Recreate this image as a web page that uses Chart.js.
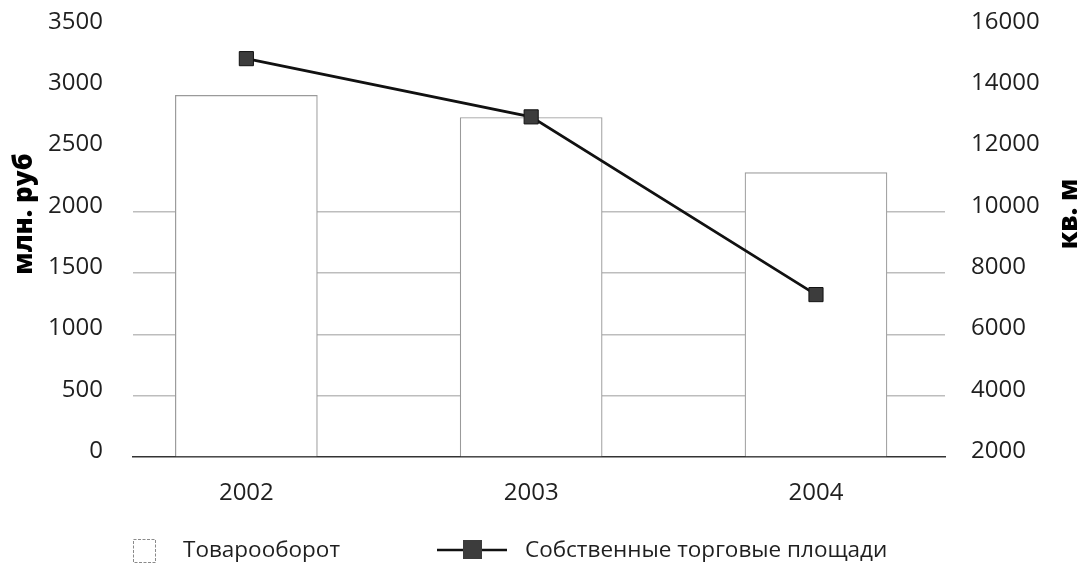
<html>
<head>
    <script src="https://cdn.jsdelivr.net/npm/chart.js@4.4.0/dist/chart.umd.min.js"></script>
    <style>
        html, body {
            margin: 0;
            padding: 0;
            background: #fff;
        }
        #wrap {
            position: relative;
            width: 1081px;
            height: 569px;
        }
    </style>
</head>
<body>
    <div id="wrap">
        <canvas id="chart"></canvas>
    </div>
    <script>
        // data
        const years = [2002, 2003, 2004];
        const turnover = [2950, 2770, 2320];        // млн. руб, left axis
        const tradingArea = [15000, 13100, 7300];   // кв. м, right axis
        const leftTicks = [0, 500, 1000, 1500, 2000, 2500, 3000, 3500];
        const rightTicks = [2000, 4000, 6000, 8000, 10000, 12000, 14000, 16000];
        const barLabel = "Товарооборот";
        const lineLabel = "Собственные торговые площади";
        const leftTitle = "млн. руб";
        const rightTitle = "кв. м";

        const FONT = "'Open Sans', 'Noto Sans', sans-serif";
        const TEXT = "#1f1f1f";
        const PLOT = { left: 133, right: 945, top: 28, bottom: 457 };

        // axis titles (both read bottom-to-top) and the legend, drawn by hand
        const extras = {
            id: "extras",
            afterDraw(chart) {
                const ctx = chart.ctx;
                ctx.save();

                ctx.font = "800 26px " + FONT;
                ctx.fillStyle = "#000";
                ctx.textAlign = "center";
                ctx.textBaseline = "middle";
                [[25, leftTitle], [1070, rightTitle]].forEach(([x, t]) => {
                    ctx.save();
                    ctx.translate(x, 214);
                    ctx.rotate(-Math.PI / 2);
                    ctx.fillText(t, 0, 0);
                    ctx.restore();
                });

                const y = 551;
                ctx.font = "22.5px " + FONT;
                ctx.fillStyle = TEXT;
                ctx.textAlign = "left";

                // bar entry
                ctx.strokeStyle = "#8a8a8a";
                ctx.lineWidth = 1;
                ctx.setLineDash([3, 1.5]);
                ctx.strokeRect(133.5, y - 11.5, 22, 23);
                ctx.setLineDash([]);
                ctx.fillText(barLabel, 183, y);

                // line entry
                ctx.strokeStyle = "#111";
                ctx.lineWidth = 2.5;
                ctx.beginPath();
                ctx.moveTo(437, y - 1);
                ctx.lineTo(507, y - 1);
                ctx.stroke();
                ctx.fillStyle = "#3c3c3c";
                ctx.fillRect(463, y - 11, 19, 19);
                ctx.fillStyle = TEXT;
                ctx.fillText(lineLabel, 525, y);
                ctx.restore();
            }
        };

        const tickFont = { family: FONT, size: 24 };
        const noPad = (s) => { s.paddingTop = 0; s.paddingBottom = 0; s.paddingLeft = 0; s.paddingRight = 0; };

        const chart = new Chart(document.getElementById("chart"), {
            data: {
                datasets: [
                    {
                        type: "line",
                        label: lineLabel,
                        data: years.map((x, i) => ({ x: x, y: tradingArea[i] })),
                        yAxisID: "y2",
                        borderColor: "#111",
                        borderWidth: 2.8,
                        pointStyle: "rect",
                        pointRadius: 10,
                        pointBackgroundColor: "#3c3c3c",
                        pointBorderColor: "#111",
                        pointBorderWidth: 1,
                        order: 0,
                    },
                    {
                        type: "bar",
                        label: barLabel,
                        data: years.map((x, i) => ({ x: x, y: turnover[i] })),
                        yAxisID: "y",
                        backgroundColor: "#fff",
                        borderColor: "#9a9a9a",
                        borderWidth: 1.2,
                        borderSkipped: "bottom",
                        barThickness: 142,
                        order: 1,
                    },
                ]
            },
            options: {
                responsive: true,
                maintainAspectRatio: false,
                animation: false,
                layout: { padding: { top: PLOT.top, bottom: 0, left: 0, right: 0 } },
                plugins: {
                    legend: { display: false },
                    tooltip: { enabled: false },
                },
                scales: {
                    x: {
                        type: "linear",
                        offset: false,
                        min: 2001.602,
                        max: 2004.453,
                        afterBuildTicks: (s) => { s.ticks = years.map(v => ({ value: v })); },
                        afterFit: (s) => { s.height = 569 - PLOT.bottom; noPad(s); },
                        grid: { display: false, drawTicks: false },
                        border: { display: true, color: "#333", width: 1.5 },
                        ticks: {
                            font: tickFont,
                            color: TEXT,
                            padding: 22,
                            callback: (v) => String(v),
                        },
                    },
                    y: {
                        position: "left",
                        min: 0,
                        max: 3500,
                        afterBuildTicks: (s) => { s.ticks = leftTicks.map(v => ({ value: v })); },
                        afterFit: (s) => { s.width = PLOT.left; noPad(s); },
                        grid: {
                            drawTicks: false,
                            color: (c) => (c.tick && c.tick.value > 0 && c.tick.value <= 2000) ? "#bdbdbd" : "rgba(0,0,0,0)",
                            lineWidth: 1.5,
                        },
                        border: { display: false },
                        ticks: {
                            font: tickFont,
                            color: TEXT,
                            padding: 30,
                            labelOffset: -6,
                            callback: (v) => v,
                        },
                    },
                    y2: {
                        position: "right",
                        min: 2000,
                        max: 16000,
                        afterBuildTicks: (s) => { s.ticks = rightTicks.map(v => ({ value: v })); },
                        afterFit: (s) => { s.width = 1081 - PLOT.right; noPad(s); },
                        grid: { display: false, drawTicks: false },
                        border: { display: false },
                        ticks: {
                            font: tickFont,
                            color: TEXT,
                            padding: 26,
                            labelOffset: -6,
                            callback: (v) => v,
                        },
                    },
                },
            },
            plugins: [extras],
        });
    </script>
</body>
</html>
